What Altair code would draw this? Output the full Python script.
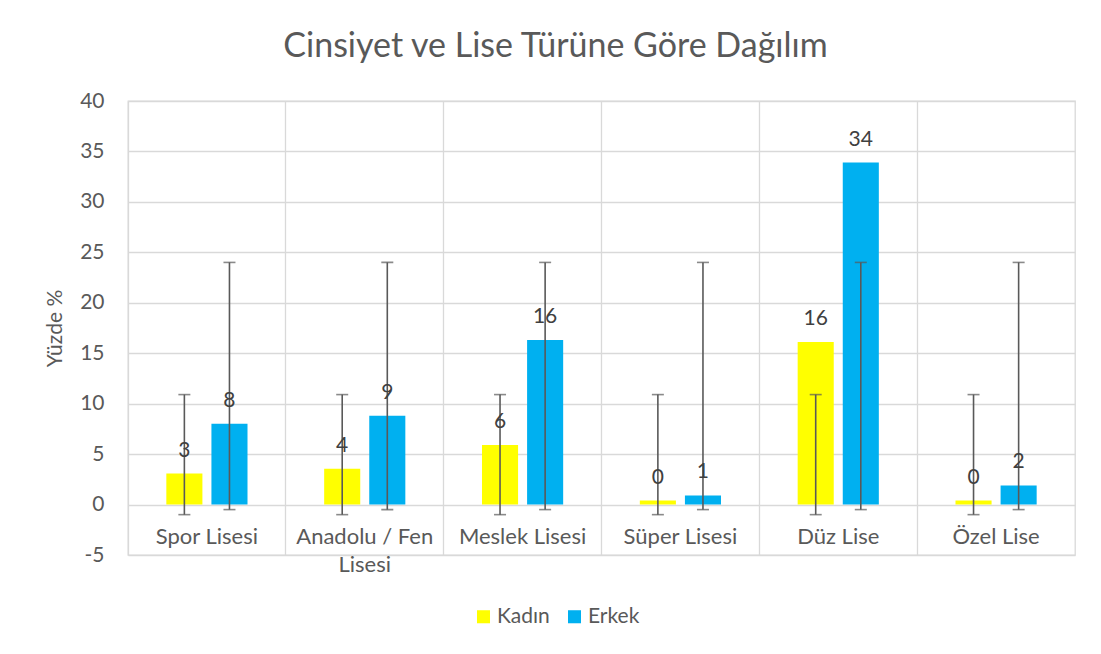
import altair as alt
import pandas as pd

categories = ["Spor Lisesi", "Anadolu / Fen Lisesi", "Meslek Lisesi", "Süper Lisesi", "Düz Lise", "Özel Lise"]
category_labels = ["Spor Lisesi", "Anadolu / Fen\nLisesi", "Meslek Lisesi", "Süper Lisesi", "Düz Lise", "Özel Lise"]
series = ["Kadın", "Erkek"]
kadin = [3.07, 3.56, 5.9, 0.4, 16.1, 0.4]
erkek = [8.0, 8.8, 16.3, 0.9, 33.9, 1.9]
kadin_err_low = [-1.0, -1.0, -1.0, -1.0, -1.0, -1.0]
kadin_err_high = [10.9, 10.9, 10.9, 10.9, 10.9, 10.9]
erkek_err_low = [-0.5, -0.5, -0.5, -0.5, -0.5, -0.5]
erkek_err_high = [24.0, 24.0, 24.0, 24.0, 24.0, 24.0]
colors = ["#FFFF00", "#00B0F0"]
y_ticks = [-5, 0, 5, 10, 15, 20, 25, 30, 35, 40]

rows = []
for i, c in enumerate(categories):
    rows.append(dict(cat=c, series="Kadın", value=kadin[i], low=kadin_err_low[i], high=kadin_err_high[i]))
    rows.append(dict(cat=c, series="Erkek", value=erkek[i], low=erkek_err_low[i], high=erkek_err_high[i]))
df = pd.DataFrame(rows)
cat_df = pd.DataFrame({"cat": categories, "label": category_labels})

FONT = "Lato"
GREY = "#595959"

x_enc = alt.X("cat:N", sort=categories,
              scale=alt.Scale(paddingInner=0, paddingOuter=0),
              axis=alt.Axis(title=None, labels=False, ticks=False, domain=False,
                            grid=True, bandPosition=0))
xo_enc = alt.XOffset("series:N", sort=series,
                     scale=alt.Scale(paddingInner=0.2, paddingOuter=0.85))
y_scale = alt.Scale(domain=[-5, 40], nice=False, zero=False)
y_axis = alt.Axis(values=y_ticks, title="Yüzde %", labelExpr="toString(datum.value)")

base = alt.Chart(df)

bars = base.mark_bar().encode(
    x=x_enc, xOffset=xo_enc,
    y=alt.Y("value:Q", scale=y_scale, axis=y_axis),
    color=alt.Color("series:N", sort=series,
                    scale=alt.Scale(domain=series, range=colors),
                    legend=alt.Legend(orient="none", legendX=345, legendY=505,
                                      direction="horizontal", title=None,
                                      symbolType="square", symbolSize=170,
                                      symbolStrokeWidth=0,
                                      labelFontSize=21, labelColor=GREY, labelFont=FONT,
                                      columnPadding=14, labelOffset=3)),
)

rules = base.mark_rule(color=GREY, strokeWidth=1.6).encode(
    x=x_enc, xOffset=xo_enc,
    y=alt.Y("low:Q", scale=y_scale, axis=y_axis),
    y2="high:Q",
)
cap_low = base.mark_tick(color=GREY, thickness=1.6, size=12, orient="horizontal").encode(
    x=x_enc, xOffset=xo_enc,
    y=alt.Y("low:Q", scale=y_scale, axis=y_axis),
)
cap_high = base.mark_tick(color=GREY, thickness=1.6, size=12, orient="horizontal").encode(
    x=x_enc, xOffset=xo_enc,
    y=alt.Y("high:Q", scale=y_scale, axis=y_axis),
)
value_labels = base.mark_text(font=FONT, fontSize=21, color="#404040",
                              baseline="alphabetic", dy=-17).encode(
    x=x_enc, xOffset=xo_enc,
    y=alt.Y("value:Q", scale=y_scale, axis=y_axis),
    text=alt.Text("value:Q", format=".0f"),
)
cat_labels = alt.Chart(cat_df).mark_text(font=FONT, fontSize=22, color=GREY,
                                         baseline="alphabetic", dy=39,
                                         lineBreak="\n", lineHeight=28).encode(
    x=x_enc,
    y=alt.datum(0, scale=y_scale, axis=y_axis),
    text="label:N",
)

chart = alt.layer(bars, rules, cap_low, cap_high, value_labels, cat_labels).properties(
    width=947, height=454,
    autosize=alt.AutoSizeParams(type="none"),
    padding={"left": 120, "top": 93, "right": 10, "bottom": 80},
    title=alt.TitleParams("Cinsiyet ve Lise Türüne Göre Dağılım", anchor="middle",
                          dx=-46, offset=26, fontSize=34, font=FONT,
                          fontWeight="normal", color=GREY),
).configure_view(stroke="#D9D9D9", strokeWidth=1.3).configure_axis(
    gridColor="#D9D9D9", gridWidth=1.3, domain=False, ticks=False,
    labelFont=FONT, titleFont=FONT,
).configure_axisY(
    labelFontSize=21, labelColor=GREY, labelPadding=24,
    titleFontSize=21, titleColor=GREY, titleFontWeight="normal", titlePadding=14,
)

chart.save("out.html", embed_options={"renderer": "svg", "actions": False})
